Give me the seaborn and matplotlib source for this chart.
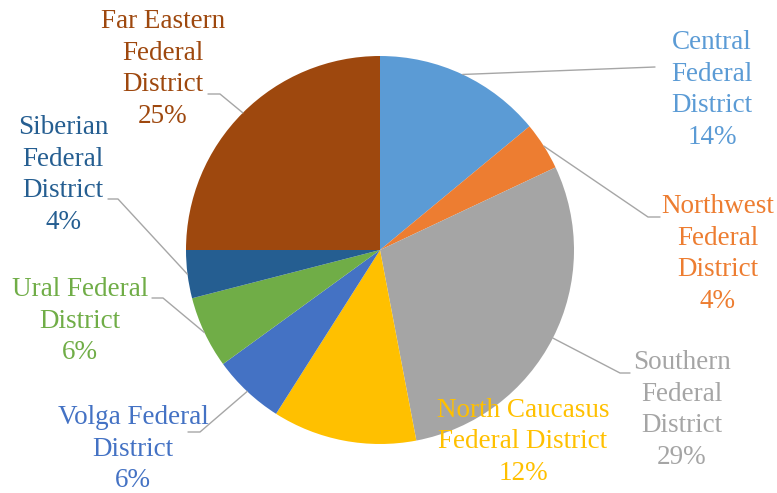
import numpy as np
import matplotlib
matplotlib.use("Agg")
import matplotlib.pyplot as plt
import seaborn as sns

categories = ["Central\nFederal\nDistrict", "Northwest\nFederal\nDistrict",
              "Southern\nFederal\nDistrict", "North Caucasus\nFederal District",
              "Volga Federal\nDistrict", "Ural Federal\nDistrict",
              "Siberian\nFederal\nDistrict", "Far Eastern\nFederal\nDistrict"]
shares = [14, 4, 29, 12, 6, 6, 4, 25]
colors = ["#5B9BD5", "#ED7D31", "#A5A5A5", "#FFC000",
          "#4472C4", "#70AD47", "#255E91", "#9E480E"]

sns.set_theme(style="white")
plt.rcParams["font.family"] = ["Liberation Serif", "DejaVu Serif"]

W, H = 777, 493
fig = plt.figure(figsize=(W / 100, H / 100), dpi=100)
ax = fig.add_axes([0, 0, 1, 1])

def py(y):
    return H - y

cx, cy, R = 380, 250, 194
wedges, _ = ax.pie(shares, startangle=90, counterclock=False,
                   colors=sns.color_palette(colors), center=(cx, py(cy)), radius=R,
                   wedgeprops=dict(linewidth=0))
ax.set_xlim(0, W)
ax.set_ylim(0, H)
ax.set_aspect("equal")
ax.axis("off")

# label block centres (pixels) and leader-line path (elbow points, pixels)
label_pos = [(712, 90), (718, 254), (682, 410), (523, 442),
             (133, 449), (80, 321), (63, 175), (163, 69)]
leaders = [[(655, 67)],
           [(648, 217), (660, 217)],
           [(620, 373), (630, 373)],
           None,
           [(200, 432), (188, 432)],
           [(163, 298), (152, 298)],
           [(118, 199), (108, 199)],
           [(220, 94), (208, 94)]]

for w, cat, val, col, pos, path in zip(wedges, categories, shares, colors, label_pos, leaders):
    ax.text(pos[0], py(pos[1]), f"{cat}\n{val}%", color=col, fontsize=19.5,
            ha="center", va="center", multialignment="center", linespacing=1.34)
    if path:
        mid = np.deg2rad((w.theta1 + w.theta2) / 2)
        xs = [cx + R * np.cos(mid)] + [p[0] for p in path]
        ys = [py(cy) + R * np.sin(mid)] + [py(p[1]) for p in path]
        ax.plot(xs, ys, color="#A6A6A6", lw=1)

fig.savefig("out.png", dpi=100)
